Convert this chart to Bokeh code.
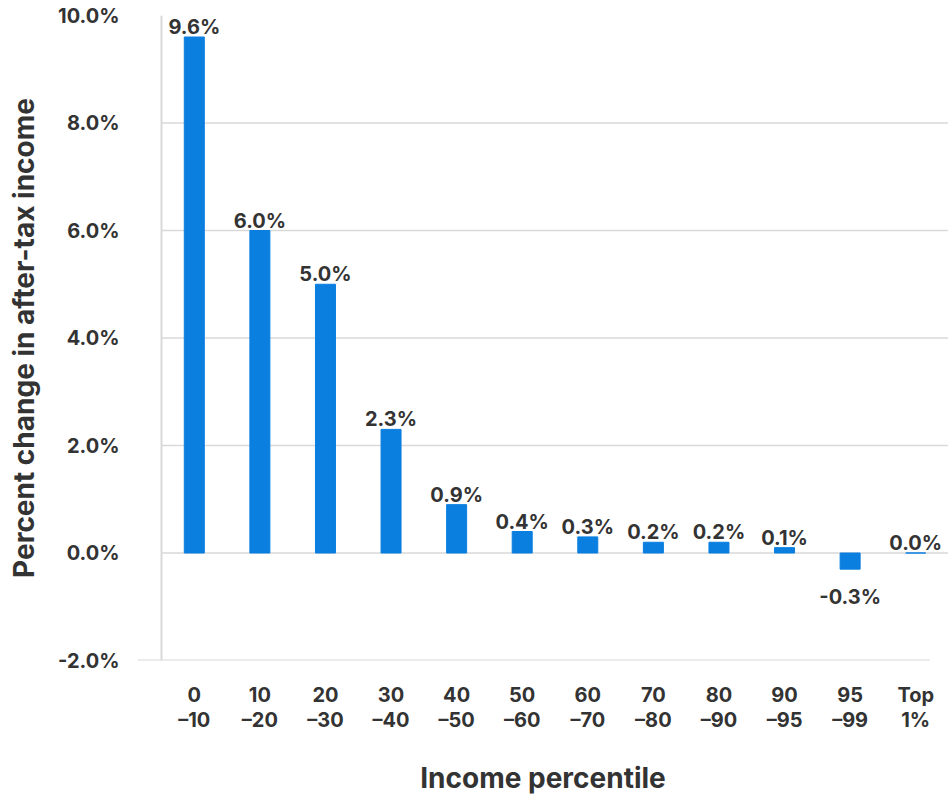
from bokeh.plotting import figure
from bokeh.models import Range1d, FixedTicker, ColumnDataSource
from bokeh.core.properties import value
from bokeh.embed import file_html
from bokeh.resources import INLINE

# Income groups (two-line tick labels) and percent change in after-tax income
groups = ["0\n\u201310", "10\n\u201320", "20\n\u201330", "30\n\u201340", "40\n\u201350",
          "50\n\u201360", "60\n\u201370", "70\n\u201380", "80\n\u201390", "90\n\u201395",
          "95\n\u201399", "Top\n1%"]
change = [9.6, 6.0, 5.0, 2.3, 0.9, 0.4, 0.3, 0.2, 0.2, 0.1, -0.3, 0.0]
y_ticks = [-2, 0, 2, 4, 6, 8, 10]
y_tick_labels = ["-2.0%", "0.0%", "2.0%", "4.0%", "6.0%", "8.0%", "10.0%"]

FONT = "Inter"
STYLE = "bold"
TEXT = "#333333"
BLUE = "#0a7fe0"
GRID = "#d9d9d9"
LABEL_SIZE = "20px"
TITLE_SIZE = "28px"

pos = list(range(len(groups)))
labels = [f"{v:.1f}%" for v in change]

p = figure(width=948, height=799, output_backend="svg", toolbar_location=None,
           x_range=Range1d(-0.866, len(groups) - 0.5), y_range=Range1d(y_ticks[0], y_ticks[-1]),
           min_border_left=137, min_border_right=0, min_border_top=15, min_border_bottom=139)
p.outline_line_color = None
p.xgrid.visible = False
p.ygrid.visible = False
p.background_fill_color = "white"
p.border_fill_color = "white"

# horizontal guide lines from the left axis to the right edge
grid_levels = [t for t in y_ticks if -2 < t < 10]
p.segment(x0=[-0.5] * len(grid_levels), x1=[len(groups) - 0.5] * len(grid_levels),
          y0=grid_levels, y1=grid_levels, line_color=GRID, line_width=1.5)
# baseline at the bottom of the value scale, extending past the left axis
p.segment(x0=[-0.866], x1=[11.22], y0=[y_ticks[0]], y1=[y_ticks[0]], line_color=GRID, line_width=2)
# left axis rule
p.segment(x0=[-0.5], x1=[-0.5], y0=[y_ticks[0]], y1=[y_ticks[-1]], line_color=GRID, line_width=2)

src = ColumnDataSource(dict(x=pos, top=change, label=labels))
p.vbar(x="x", top="top", bottom=0, width=0.305, source=src,
       fill_color=BLUE, line_color=BLUE, line_width=1)

up = [i for i, v in enumerate(change) if v >= 0]
dn = [i for i, v in enumerate(change) if v < 0]
common = dict(text_font=value(FONT), text_font_size=LABEL_SIZE, text_font_style=STYLE,
              text_color=TEXT, text_align="center", text_baseline="alphabetic")
p.text(x=[pos[i] for i in up], y=[change[i] for i in up], text=[labels[i] for i in up],
       y_offset=-10, **common)
p.text(x=[pos[i] for i in dn], y=[change[i] for i in dn], text=[labels[i] for i in dn],
       y_offset=28, **common)

p.yaxis.ticker = FixedTicker(ticks=y_ticks)
p.yaxis.major_label_overrides = {t: s for t, s in zip(y_ticks, y_tick_labels)}
p.xaxis.ticker = FixedTicker(ticks=pos)
p.xaxis.major_label_overrides = {i: g for i, g in zip(pos, groups)}

for ax in (p.xaxis[0], p.yaxis[0]):
    ax.axis_line_color = None
    ax.major_tick_line_color = None
    ax.minor_tick_line_color = None
    ax.major_label_text_font = FONT
    ax.major_label_text_font_style = STYLE
    ax.major_label_text_font_size = LABEL_SIZE
    ax.major_label_text_color = TEXT
    ax.major_label_text_line_height = 1.05
    ax.axis_label_text_font = FONT
    ax.axis_label_text_font_style = STYLE
    ax.axis_label_text_font_size = TITLE_SIZE
    ax.axis_label_text_color = TEXT

p.yaxis.major_label_standoff = 12
p.yaxis.axis_label = "Percent change in after-tax income"
p.yaxis.axis_label_standoff = 14
p.xaxis.major_label_standoff = 16
p.xaxis.axis_label = "Income percentile"
p.xaxis.axis_label_standoff = 26

open("out.html", "w").write(file_html(p, INLINE))
